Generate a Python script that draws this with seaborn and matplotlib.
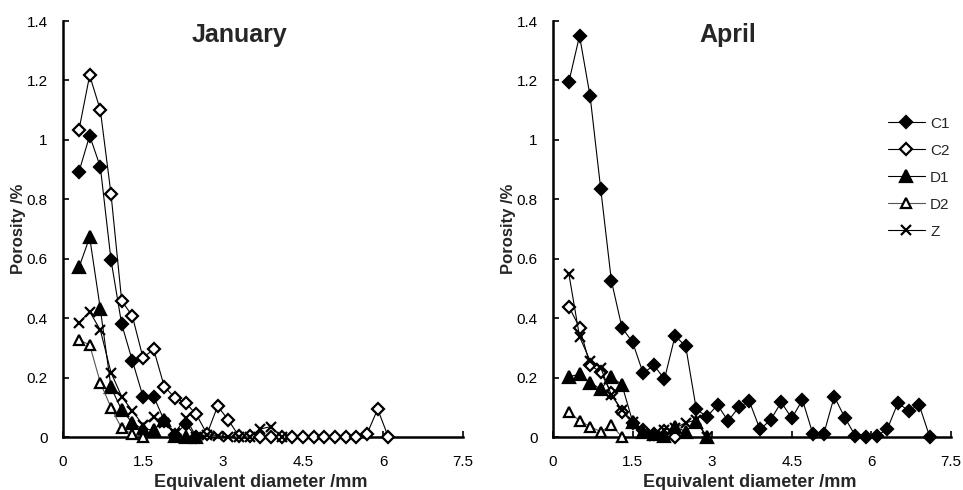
import matplotlib
matplotlib.use("Agg")
import matplotlib.pyplot as plt
from matplotlib.ticker import FuncFormatter
import seaborn as sns

# equivalent diameter classes (mm), shared by all series
diam = [0.3, 0.5, 0.7, 0.9, 1.1, 1.3, 1.5, 1.7, 1.9, 2.1, 2.3, 2.5, 2.7, 2.9, 3.1,
        3.3, 3.5, 3.7, 3.9, 4.1, 4.3, 4.5, 4.7, 4.9, 5.1, 5.3, 5.5, 5.7, 5.9, 6.1,
        6.3, 6.5, 6.7, 6.9, 7.1]

# January porosity (%)
jan_c1 = [0.893, 1.014, 0.909, 0.596, 0.38, 0.257, 0.136, 0.136, 0.055, 0.007, 0.044, 0.0]
jan_c2 = [1.034, 1.217, 1.10, 0.818, 0.459, 0.407, 0.267, 0.295, 0.169, 0.132, 0.115, 0.076,
          0.01, 0.104, 0.057, 0.003, 0.003, 0.0, 0.0, 0.0, 0.0, 0.0, 0.0, 0.0, 0.0, 0.0,
          0.0, 0.01, 0.094, 0.0]
jan_d1 = [0.571, 0.672, 0.431, 0.167, 0.091, 0.048, 0.026, 0.024, 0.057, 0.003, 0.0, 0.0]
jan_d2 = [0.327, 0.31, 0.183, 0.099, 0.029, 0.01, 0.0]
jan_z = [0.385, 0.422, 0.36, 0.217, 0.136, 0.088, 0.04, 0.068, 0.047, 0.015, 0.064, 0.0,
         0.008, 0.005, 0.0, 0.0, 0.0, 0.027, 0.035, 0.0]

# April porosity (%)
apr_c1 = [1.196, 1.35, 1.146, 0.834, 0.526, 0.368, 0.319, 0.214, 0.242, 0.195, 0.34, 0.306,
          0.094, 0.068, 0.108, 0.054, 0.10, 0.12, 0.026, 0.057, 0.117, 0.063, 0.125, 0.009,
          0.009, 0.136, 0.065, 0.003, 0.0, 0.003, 0.027, 0.115, 0.088, 0.108, 0.0]
apr_c2 = [0.439, 0.368, 0.242, 0.218, 0.147, 0.085, 0.048, 0.024, 0.01, 0.02, 0.0]
apr_d1 = [0.203, 0.211, 0.183, 0.161, 0.203, 0.175, 0.052, 0.018, 0.01, 0.003, 0.035, 0.018,
          0.052, 0.0]
apr_d2 = [0.085, 0.055, 0.035, 0.018, 0.04, 0.0]
apr_z = [0.548, 0.338, 0.256, 0.233, 0.141, 0.091, 0.052, 0.012, 0.003, 0.024, 0.03, 0.048,
         0.057, 0.0]

series_names = ["C1", "C2", "D1", "D2", "Z"]
x_ticks = [0, 1.5, 3, 4.5, 6, 7.5]
y_ticks = [0, 0.2, 0.4, 0.6, 0.8, 1.0, 1.2, 1.4]

# marker, face colour, marker size, line colour
styles = {
    "C1": ("D", "black", 6.5, "black"),
    "C2": ("D", "white", 6.5, "black"),
    "D1": ("^", "black", 8, "black"),
    "D2": ("^", "white", 7.5, "#555555"),
    "Z": ("x", "black", 7.5, "black"),
}

sns.set_style("ticks")
plt.rcParams["font.family"] = ["Liberation Sans", "DejaVu Sans"]

fig = plt.figure(figsize=(9.63, 4.9), dpi=100)
ax_jan = fig.add_axes([63 / 963, 53 / 490, 400 / 963, 416 / 490])
ax_apr = fig.add_axes([553 / 963, 53 / 490, 398 / 963, 416 / 490])

panels = [
    (ax_jan, "January", [jan_c1, jan_c2, jan_d1, jan_d2, jan_z]),
    (ax_apr, "April", [apr_c1, apr_c2, apr_d1, apr_d2, apr_z]),
]

for ax, title, data in panels:
    for name, vals in zip(series_names, data):
        marker, face, ms, lc = styles[name]
        sns.lineplot(
            x=diam[:len(vals)], y=vals, ax=ax, color=lc, lw=0.8,
            marker=marker, markersize=ms, markerfacecolor=face,
            markeredgecolor="black", markeredgewidth=1.6,
            label=name, clip_on=False, zorder=3,
        )
    ax.set_xlim(0, 7.5)
    ax.set_ylim(0, 1.4)
    ax.set_xticks(x_ticks)
    ax.set_yticks(y_ticks)
    ax.xaxis.set_major_formatter(FuncFormatter(lambda v, p: f"{v:g}"))
    ax.yaxis.set_major_formatter(FuncFormatter(lambda v, p: f"{v:g}"))
    sns.despine(ax=ax)
    for sp in ["left", "bottom"]:
        ax.spines[sp].set_linewidth(1.8)
        ax.spines[sp].set_color("black")
    ax.tick_params(axis="both", direction="in", length=4, width=1.2, colors="black",
                   labelsize=11)
    ax.tick_params(axis="y", pad=11)
    ax.tick_params(axis="x", pad=13)
    ax.set_xlabel("Equivalent diameter /mm", fontsize=13, fontweight="bold")
    ax.set_ylabel("Porosity /%", fontsize=12, fontweight="bold")
    ax.xaxis.set_label_coords(0.495, -0.088)
    ax.yaxis.set_label_coords(-0.093, 0.5)
    ax.text(0.44, 0.966, title, transform=ax.transAxes, ha="center", va="center",
            fontsize=18, fontweight="bold")

ax_jan.get_legend().remove()
ax_apr.legend(loc="upper left", bbox_to_anchor=(0.842, 0.77), frameon=False,
              fontsize=11, handlelength=2.4, handletextpad=0.35, labelspacing=0.85,
              borderpad=0, borderaxespad=0)

fig.savefig("out.png", dpi=100)
